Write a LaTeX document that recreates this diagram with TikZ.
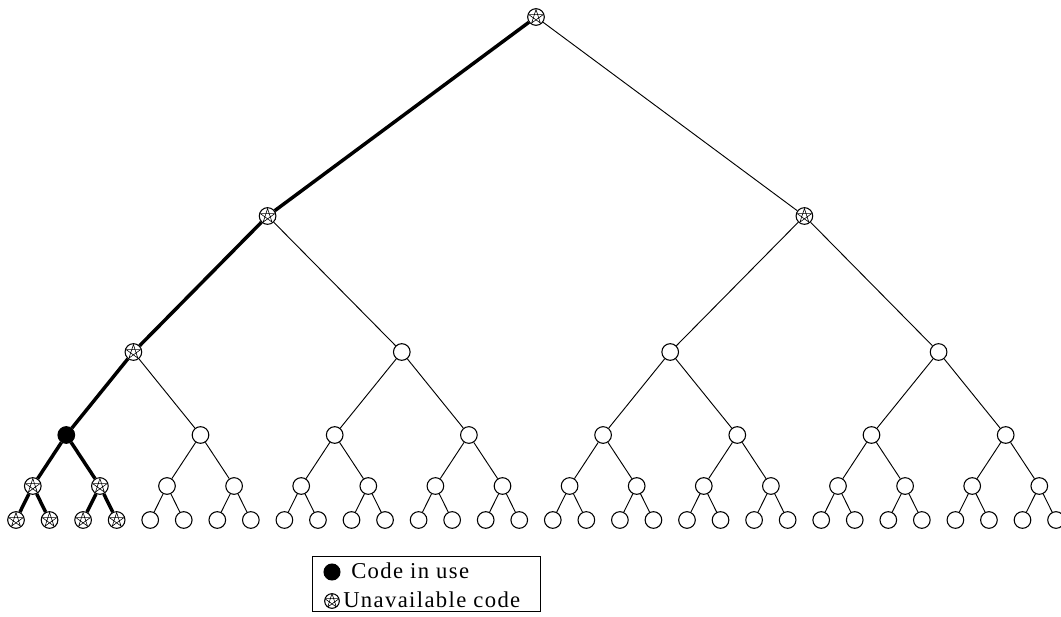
\documentclass[tikz,border=0pt]{standalone}
\usepackage{fontspec}
\setmainfont{Liberation Serif}[LetterSpace=6]
\begin{document}
\begin{tikzpicture}[x=0.75pt,y=-0.75pt,
  free/.style={circle,draw,line width=0.8pt,minimum size=12.5pt,inner sep=0pt,fill=white},
  used/.style={circle,draw,fill=black,line width=0.8pt,minimum size=12.5pt,inner sep=0pt},
  unav/.style={free,path picture={
     \draw[line width=0.45pt,shift={(path picture bounding box.center)}]
       (90:5.6pt) -- (234:5.6pt) -- (18:5.6pt) -- (162:5.6pt) -- (306:5.6pt) -- cycle;}},
  thin/.style={line width=0.7pt},
  thick/.style={line width=2.6pt},
  legtext/.style={anchor=base west,inner sep=0pt,font=\fontsize{17}{20}\selectfont}]
\useasboundingbox (0,0) rectangle (1061,617);
% leaves
\foreach \i in {0,...,31}{
  \pgfmathsetmacro\xx{16+33.55*\i}
  \ifnum\i<4 \node[unav] (e\i) at (\xx,520) {};
  \else \node[free] (e\i) at (\xx,520) {};\fi
}
\foreach \i in {0,...,15}{
  \pgfmathsetmacro\xx{32.8+67.1*\i}
  \ifnum\i<2 \node[unav] (d\i) at (\xx,486) {};
  \else \node[free] (d\i) at (\xx,486) {};\fi
}
\foreach \i in {0,...,7}{
  \pgfmathsetmacro\xx{66.3+134.2*\i}
  \ifnum\i=0 \node[used] (c\i) at (\xx,435) {};
  \else \node[free] (c\i) at (\xx,435) {};\fi
}
\foreach \i in {0,...,3}{
  \pgfmathsetmacro\xx{133.4+268.4*\i}
  \ifnum\i=0 \node[unav] (b\i) at (\xx,352) {};
  \else \node[free] (b\i) at (\xx,352) {};\fi
}
\node[unav] (a0) at (267.6,216) {};
\node[unav] (a1) at (804.4,216) {};
\node[unav] (r) at (536,17) {};
% edges
\begin{scope}[on background layer/.style={}]
\draw[thick] (r) -- (a0);
\draw[thin] (r) -- (a1);
\draw[thick] (a0) -- (b0);
\draw[thin] (a0) -- (b1);
\draw[thin] (a1) -- (b2);
\draw[thin] (a1) -- (b3);
\draw[thick] (b0) -- (c0);
\draw[thin] (b0) -- (c1);
\foreach \p/\l/\r in {1/2/3,2/4/5,3/6/7}{\draw[thin] (b\p) -- (c\l); \draw[thin] (b\p) -- (c\r);}
\draw[thick] (c0) -- (d0);
\draw[thick] (c0) -- (d1);
\foreach \p in {1,...,7}{
  \pgfmathtruncatemacro\l{2*\p}\pgfmathtruncatemacro\r{2*\p+1}
  \draw[thin] (c\p) -- (d\l); \draw[thin] (c\p) -- (d\r);}
\draw[thick] (d0) -- (e0);
\draw[thick] (d0) -- (e1);
\draw[thick] (d1) -- (e2);
\draw[thick] (d1) -- (e3);
\foreach \p in {2,...,15}{
  \pgfmathtruncatemacro\l{2*\p}\pgfmathtruncatemacro\r{2*\p+1}
  \draw[thin] (d\p) -- (e\l); \draw[thin] (d\p) -- (e\r);}
\end{scope}
% legend
\node[draw,line width=0.8pt,inner sep=0pt,minimum width=171pt,minimum height=41.5pt,anchor=north west] (box) at (312,556) {};
\node[used,minimum size=12pt] (lu) at (332,572) {};
\node[unav,minimum size=11pt] (la) at (332,601) {};
\node[legtext] (t1) at (351,578) {Code in use};
\node[legtext] (t2) at (343,607) {Unavailable code};
\end{tikzpicture}
\end{document}
